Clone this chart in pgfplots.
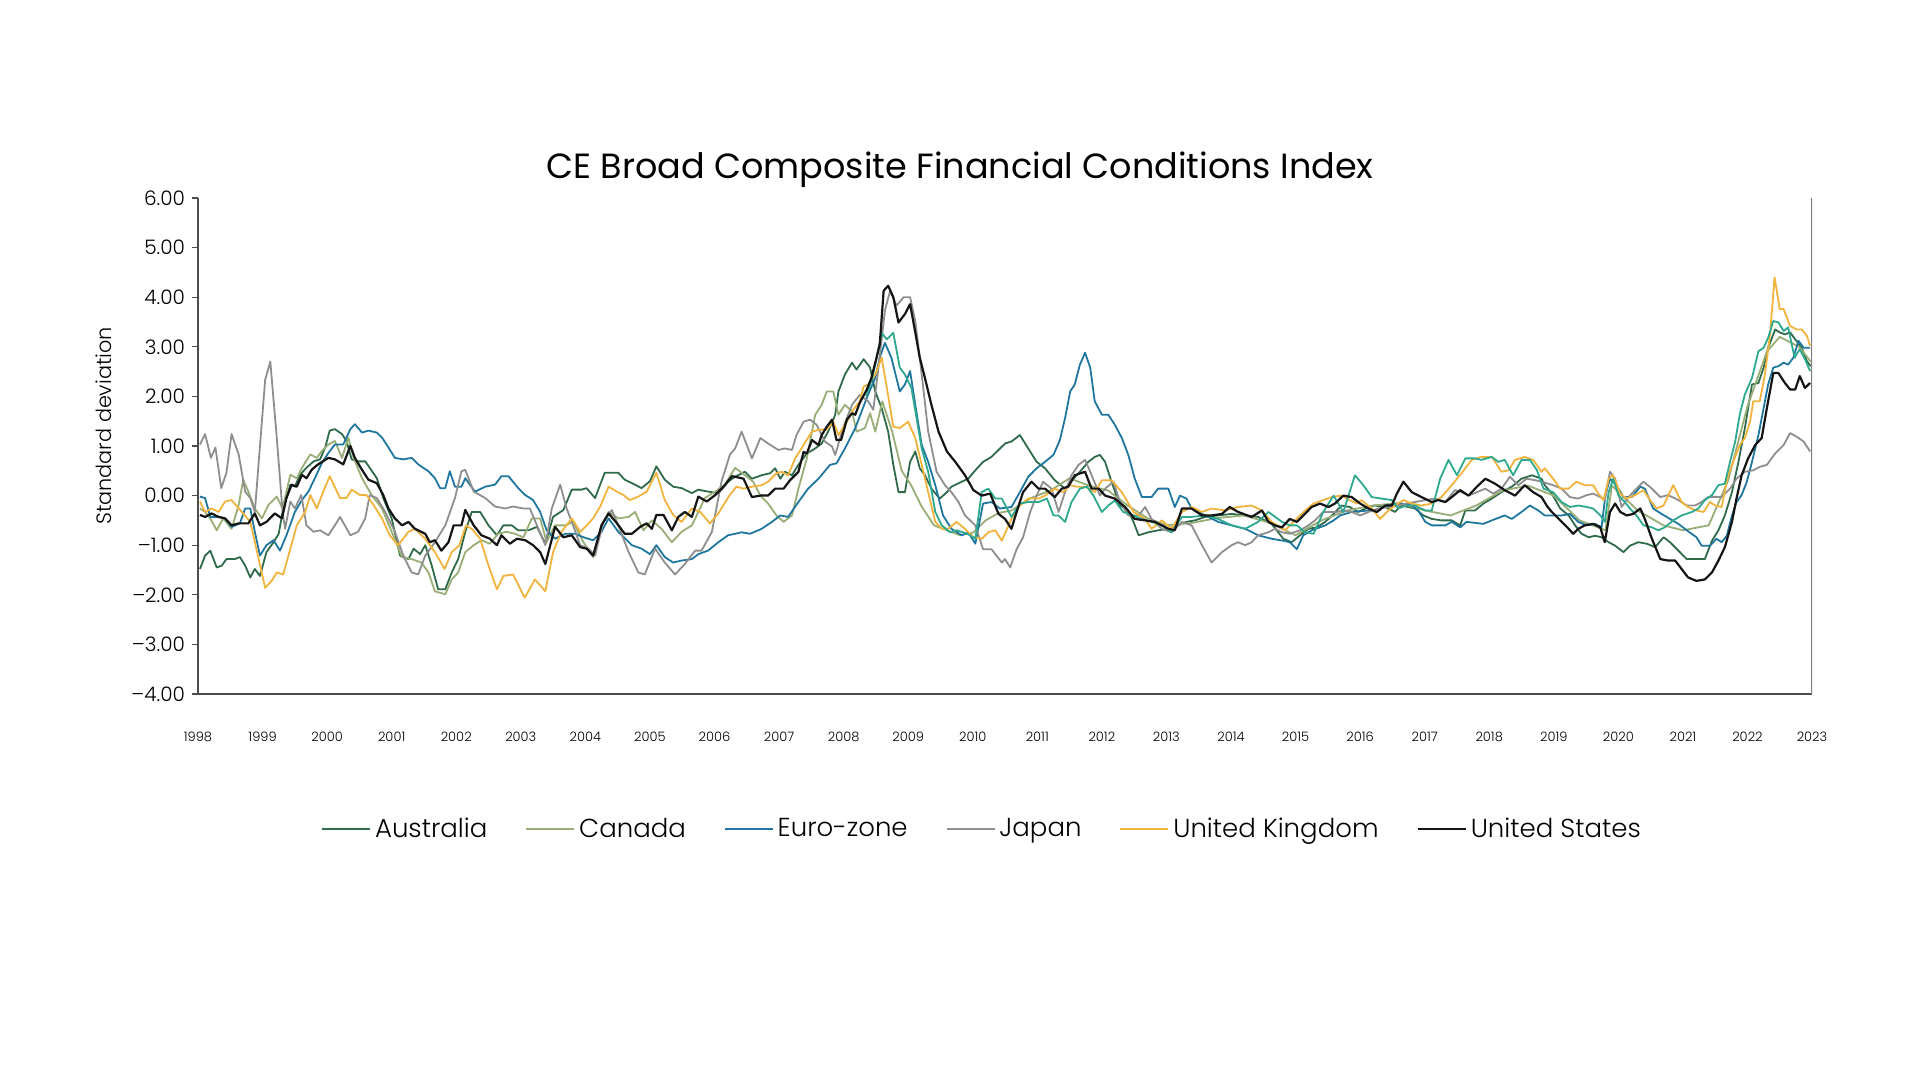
\documentclass[border=0pt]{standalone}
\usepackage{pgfplots}
\pgfplotsset{compat=1.18}
\usepackage{fontspec}
\IfFontExistsTF{Poppins Light}{\setmainfont{Poppins Light}}{\setmainfont{Poppins}}
\newfontfamily\titlefont{Poppins}
\definecolor{cAus}{HTML}{2F6B4A}
\definecolor{cCan}{HTML}{98AE76}
\definecolor{cEur}{HTML}{1F77A0}
\definecolor{cJap}{HTML}{8E8E8E}
\definecolor{cUK}{HTML}{F2B33D}
\definecolor{cUS}{HTML}{151515}
\definecolor{cTeal}{HTML}{2EA88E}
\begin{document}
\begin{tikzpicture}
\path[use as bounding box] (0pt,0pt) rectangle (960pt,540pt);
\begin{axis}[
  at={(99pt,193pt)}, anchor=south west,
  width=807pt, height=248pt, scale only axis,
  xmin=1998, xmax=2023, ymin=-4, ymax=6,
  axis x line*=bottom, axis y line*=left,
  axis line style={black!70, line width=0.6pt},
  xtick={1998,1999,2000,2001,2002,2003,2004,2005,2006,2007,2008,2009,2010,2011,2012,2013,2014,2015,2016,2017,2018,2019,2020,2021,2022,2023},
  xticklabels={1998,1999,2000,2001,2002,2003,2004,2005,2006,2007,2008,2009,2010,2011,2012,2013,2014,2015,2016,2017,2018,2019,2020,2021,2022,2023},
  x tick label style={font=\fontsize{6.5}{8}\selectfont, yshift=-12.5pt},
  xtick style={draw=none},
  ytick={-4,-3,-2,-1,0,1,2,3,4,5,6},
  yticklabels={\textendash4.00,\textendash3.00,\textendash2.00,\textendash1.00,0.00,1.00,2.00,3.00,4.00,5.00,6.00},
  y tick label style={font=\fontsize{10}{12}\selectfont},
  ytick style={black!70, line width=0.6pt},
  tick align=outside, major tick length=3pt,
  legend style={at={(0.4864,-0.272)}, anchor=center, draw=none, fill=none,
    legend columns=6, font=\fontsize{13}{15}\selectfont,
    /tikz/every even column/.append style={column sep=17pt}},
  legend cell align=left,
  legend image code/.code={\draw[#1] (0pt,0pt) -- (24pt,0pt);},
  every axis plot/.append style={line width=0.9pt, line join=round},
]
\addplot[cAus] coordinates {(1998.03,-1.48)(1998.11,-1.21)(1998.19,-1.11)(1998.29,-1.45)(1998.37,-1.41)(1998.44,-1.28)(1998.57,-1.28)(1998.65,-1.24)(1998.73,-1.41)(1998.81,-1.65)(1998.88,-1.48)(1998.96,-1.62)(1999.06,-1.14)(1999.17,-0.94)(1999.25,-0.77)(1999.32,-0.26)(1999.43,0.22)(1999.50,0.18)(1999.58,0.42)(1999.68,0.56)(1999.79,0.69)(1999.89,0.73)(1999.97,0.97)(2000.04,1.31)(2000.12,1.34)(2000.23,1.24)(2000.30,1.10)(2000.38,0.73)(2000.48,0.69)(2000.59,0.69)(2000.66,0.56)(2000.77,0.35)(2000.87,-0.05)(2001.00,-0.46)(2001.13,-1.21)(2001.26,-1.28)(2001.34,-1.07)(2001.44,-1.18)(2001.52,-1.00)(2001.62,-1.41)(2001.72,-1.89)(2001.83,-1.89)(2001.93,-1.55)(2002.03,-1.28)(2002.14,-0.73)(2002.24,-0.33)(2002.37,-0.33)(2002.50,-0.60)(2002.63,-0.80)(2002.73,-0.60)(2002.86,-0.60)(2002.96,-0.70)(2003.12,-0.70)(2003.25,-0.63)(2003.38,-0.97)(2003.50,-0.43)(2003.66,-0.29)(2003.79,0.12)(2003.94,0.12)(2004.02,0.15)(2004.15,-0.05)(2004.30,0.46)(2004.51,0.46)(2004.61,0.32)(2004.77,0.22)(2004.87,0.15)(2005.00,0.29)(2005.10,0.59)(2005.23,0.32)(2005.36,0.18)(2005.49,0.15)(2005.65,0.05)(2005.75,0.12)(2005.90,0.08)(2006.06,0.05)(2006.22,0.29)(2006.32,0.38)(2006.47,0.48)(2006.58,0.34)(2006.73,0.41)(2006.86,0.45)(2006.94,0.55)(2007.02,0.34)(2007.09,0.48)(2007.20,0.41)(2007.30,0.62)(2007.43,0.85)(2007.56,0.95)(2007.66,1.05)(2007.76,1.29)(2007.87,1.63)(2007.92,2.10)(2008.02,2.44)(2008.13,2.68)(2008.20,2.54)(2008.31,2.75)(2008.41,2.58)(2008.49,2.10)(2008.59,1.76)(2008.69,1.29)(2008.77,0.62)(2008.85,0.07)(2008.95,0.07)(2009.03,0.68)(2009.11,0.89)(2009.18,0.55)(2009.26,0.41)(2009.36,0.14)(2009.49,-0.06)(2009.60,0.07)(2009.67,0.18)(2009.83,0.28)(2009.93,0.34)(2010.04,0.51)(2010.16,0.68)(2010.29,0.78)(2010.40,0.92)(2010.50,1.05)(2010.60,1.09)(2010.73,1.22)(2010.86,0.95)(2010.99,0.68)(2011.12,0.55)(2011.27,0.31)(2011.43,0.14)(2011.56,0.34)(2011.66,0.48)(2011.79,0.68)(2011.89,0.78)(2011.97,0.82)(2012.05,0.68)(2012.15,0.28)(2012.28,-0.20)(2012.41,-0.30)(2012.49,-0.53)(2012.57,-0.80)(2012.72,-0.74)(2012.87,-0.70)(2013.03,-0.67)(2013.18,-0.60)(2013.31,-0.53)(2013.44,-0.50)(2013.60,-0.43)(2013.80,-0.40)(2014.01,-0.37)(2014.22,-0.40)(2014.42,-0.43)(2014.63,-0.57)(2014.81,-0.87)(2014.94,-0.94)(2015.07,-0.80)(2015.20,-0.67)(2015.33,-0.64)(2015.46,-0.53)(2015.59,-0.37)(2015.71,-0.20)(2015.84,-0.23)(2015.97,-0.33)(2016.13,-0.23)(2016.23,-0.20)(2016.39,-0.23)(2016.54,-0.33)(2016.64,-0.20)(2016.85,-0.26)(2016.98,-0.40)(2017.11,-0.47)(2017.26,-0.50)(2017.42,-0.50)(2017.55,-0.60)(2017.63,-0.30)(2017.78,-0.30)(2017.91,-0.16)(2018.04,-0.06)(2018.19,0.07)(2018.35,0.18)(2018.50,0.34)(2018.66,0.41)(2018.81,0.34)(2018.86,0.21)(2018.97,0.04)(2019.10,-0.26)(2019.23,-0.40)(2019.33,-0.60)(2019.43,-0.77)(2019.54,-0.84)(2019.64,-0.81)(2019.74,-0.84)(2019.85,-0.94)(2019.95,-1.01)(2020.08,-1.14)(2020.18,-1.01)(2020.31,-0.94)(2020.44,-0.97)(2020.57,-1.04)(2020.70,-0.84)(2020.80,-0.94)(2020.93,-1.11)(2021.06,-1.28)(2021.21,-1.28)(2021.34,-1.28)(2021.45,-0.91)(2021.55,-0.70)(2021.65,-0.40)(2021.76,0.07)(2021.86,0.68)(2021.96,1.36)(2022.07,2.24)(2022.17,2.27)(2022.25,2.58)(2022.32,2.98)(2022.43,3.35)(2022.50,3.29)(2022.58,3.25)(2022.66,3.29)(2022.74,3.15)(2022.84,2.98)(2022.92,2.71)(2022.98,2.61)};
\addplot[cCan] coordinates {(1998.03,-0.26)(1998.11,-0.33)(1998.19,-0.46)(1998.29,-0.70)(1998.39,-0.46)(1998.52,-0.67)(1998.63,-0.19)(1998.70,0.32)(1998.78,0.08)(1998.88,-0.26)(1998.99,-0.46)(1999.09,-0.19)(1999.22,-0.02)(1999.31,-0.26)(1999.43,0.42)(1999.53,0.35)(1999.61,0.56)(1999.74,0.83)(1999.84,0.76)(1999.92,0.90)(2000.02,1.03)(2000.12,1.10)(2000.23,0.76)(2000.33,1.17)(2000.41,0.76)(2000.54,0.35)(2000.69,0.01)(2000.85,-0.26)(2001.00,-0.73)(2001.16,-1.24)(2001.31,-1.28)(2001.46,-1.35)(2001.57,-1.55)(2001.67,-1.93)(2001.83,-1.99)(2001.93,-1.69)(2002.03,-1.55)(2002.14,-1.14)(2002.27,-1.00)(2002.39,-0.90)(2002.52,-0.97)(2002.65,-0.77)(2002.78,-0.73)(2002.91,-0.77)(2003.04,-0.84)(2003.17,-0.46)(2003.30,-0.46)(2003.40,-0.94)(2003.53,-0.60)(2003.69,-0.60)(2003.81,-0.53)(2003.97,-0.94)(2004.12,-1.24)(2004.25,-0.60)(2004.36,-0.33)(2004.51,-0.46)(2004.67,-0.43)(2004.77,-0.33)(2004.90,-0.70)(2005.03,-0.50)(2005.18,-0.67)(2005.34,-0.94)(2005.49,-0.73)(2005.65,-0.60)(2005.75,-0.33)(2005.85,-0.05)(2006.01,0.08)(2006.16,0.22)(2006.32,0.56)(2006.47,0.41)(2006.60,0.28)(2006.71,0.00)(2006.83,-0.16)(2006.96,-0.40)(2007.07,-0.53)(2007.20,-0.40)(2007.30,0.14)(2007.43,0.75)(2007.56,1.63)(2007.66,1.83)(2007.74,2.10)(2007.84,2.10)(2007.92,1.63)(2008.02,1.83)(2008.13,1.70)(2008.20,1.29)(2008.33,1.36)(2008.41,1.66)(2008.49,1.29)(2008.60,1.90)(2008.75,1.30)(2008.90,0.50)(2009.05,0.20)(2009.20,-0.20)(2009.40,-0.60)(2009.60,-0.70)(2009.80,-0.80)(2010.00,-0.75)(2010.20,-0.50)(2010.40,-0.35)(2010.60,-0.30)(2010.90,-0.05)(2011.20,0.10)(2011.50,0.35)(2011.80,0.20)(2012.10,0.10)(2012.40,-0.20)(2012.70,-0.45)(2013.00,-0.60)(2013.40,-0.55)(2013.80,-0.45)(2014.20,-0.40)(2014.60,-0.55)(2015.00,-0.80)(2015.40,-0.50)(2015.80,-0.30)(2016.20,-0.20)(2016.60,-0.15)(2017.00,-0.30)(2017.40,-0.40)(2017.80,-0.20)(2018.20,0.10)(2018.60,0.20)(2019.00,0.00)(2019.40,-0.50)(2019.80,-0.70)(2019.90,0.20)(2020.30,-0.30)(2020.70,-0.60)(2021.00,-0.70)(2021.40,-0.60)(2021.70,0.30)(2022.00,1.80)(2022.30,2.90)(2022.50,3.20)(2022.80,3.00)(2022.98,2.70)};
\addplot[cEur] coordinates {(1998.03,-0.02)(1998.11,-0.05)(1998.19,-0.43)(1998.32,-0.43)(1998.42,-0.46)(1998.52,-0.63)(1998.65,-0.56)(1998.73,-0.26)(1998.81,-0.26)(1998.88,-0.73)(1998.96,-1.21)(1999.06,-1.00)(1999.17,-0.90)(1999.27,-1.11)(1999.37,-0.80)(1999.50,-0.33)(1999.61,-0.09)(1999.71,0.08)(1999.81,0.35)(1999.92,0.66)(2000.02,0.86)(2000.12,1.03)(2000.25,1.03)(2000.36,1.34)(2000.43,1.44)(2000.54,1.27)(2000.64,1.31)(2000.77,1.27)(2000.85,1.17)(2000.95,0.97)(2001.05,0.76)(2001.18,0.73)(2001.31,0.76)(2001.41,0.63)(2001.57,0.49)(2001.67,0.35)(2001.75,0.15)(2001.83,0.15)(2001.90,0.49)(2001.98,0.18)(2002.08,0.18)(2002.14,0.35)(2002.29,0.08)(2002.45,0.18)(2002.60,0.22)(2002.70,0.39)(2002.81,0.39)(2002.96,0.15)(2003.07,0.01)(2003.19,-0.09)(2003.30,-0.33)(2003.40,-0.70)(2003.53,-0.87)(2003.69,-0.77)(2003.84,-0.77)(2003.97,-0.84)(2004.12,-0.90)(2004.25,-0.73)(2004.36,-0.46)(2004.51,-0.73)(2004.72,-1.00)(2004.87,-1.07)(2005.00,-1.18)(2005.10,-1.00)(2005.23,-1.24)(2005.36,-1.35)(2005.49,-1.31)(2005.65,-1.28)(2005.75,-1.18)(2005.90,-1.11)(2006.06,-0.94)(2006.21,-0.80)(2006.32,-0.77)(2006.42,-0.74)(2006.55,-0.77)(2006.73,-0.67)(2006.89,-0.53)(2007.02,-0.40)(2007.14,-0.43)(2007.30,-0.13)(2007.45,0.14)(2007.61,0.34)(2007.79,0.62)(2007.89,0.65)(2008.02,0.95)(2008.18,1.36)(2008.28,1.70)(2008.38,2.04)(2008.49,2.37)(2008.56,2.78)(2008.64,3.08)(2008.74,2.78)(2008.87,2.10)(2008.95,2.24)(2009.03,2.51)(2009.11,1.83)(2009.21,1.02)(2009.31,0.68)(2009.42,0.21)(2009.54,-0.40)(2009.67,-0.67)(2009.83,-0.80)(2009.93,-0.74)(2010.04,-0.97)(2010.16,-0.16)(2010.29,-0.13)(2010.42,-0.26)(2010.60,-0.23)(2010.73,0.07)(2010.86,0.38)(2010.99,0.55)(2011.09,0.65)(2011.25,0.82)(2011.35,1.12)(2011.43,1.56)(2011.51,2.10)(2011.58,2.24)(2011.66,2.64)(2011.74,2.88)(2011.82,2.58)(2011.89,1.90)(2012.00,1.63)(2012.10,1.63)(2012.20,1.43)(2012.31,1.16)(2012.41,0.82)(2012.51,0.34)(2012.62,-0.03)(2012.77,-0.03)(2012.87,0.14)(2013.03,0.14)(2013.13,-0.23)(2013.21,0.00)(2013.31,-0.06)(2013.39,-0.26)(2013.60,-0.40)(2013.80,-0.53)(2014.01,-0.60)(2014.22,-0.67)(2014.42,-0.80)(2014.63,-0.87)(2014.81,-0.91)(2014.91,-0.94)(2015.02,-1.08)(2015.12,-0.80)(2015.25,-0.70)(2015.46,-0.60)(2015.59,-0.50)(2015.69,-0.40)(2015.87,-0.33)(2016.13,-0.30)(2016.26,-0.33)(2016.39,-0.20)(2016.64,-0.16)(2016.80,-0.20)(2016.90,-0.30)(2017.01,-0.53)(2017.11,-0.60)(2017.32,-0.60)(2017.42,-0.53)(2017.55,-0.64)(2017.65,-0.53)(2017.91,-0.57)(2018.04,-0.50)(2018.24,-0.40)(2018.35,-0.47)(2018.50,-0.33)(2018.63,-0.20)(2018.76,-0.30)(2018.86,-0.40)(2019.12,-0.40)(2019.25,-0.37)(2019.38,-0.53)(2019.51,-0.60)(2019.64,-0.57)(2019.74,-0.64)(2019.80,0.01)(2019.87,0.34)(2019.97,0.21)(2020.08,-0.03)(2020.21,-0.03)(2020.34,0.18)(2020.41,0.14)(2020.54,-0.26)(2020.67,-0.37)(2020.80,-0.47)(2020.93,-0.57)(2021.06,-0.70)(2021.21,-0.84)(2021.29,-1.01)(2021.42,-1.01)(2021.52,-0.87)(2021.60,-0.94)(2021.68,-0.81)(2021.76,-0.40)(2021.83,-0.13)(2021.91,0.01)(2021.99,0.28)(2022.07,0.68)(2022.17,1.22)(2022.25,1.76)(2022.32,2.24)(2022.40,2.58)(2022.48,2.61)(2022.56,2.68)(2022.63,2.64)(2022.71,2.78)(2022.79,3.12)(2022.87,2.98)(2022.97,2.98)};
\addplot[cJap] coordinates {(1998.03,1.03)(1998.11,1.24)(1998.20,0.76)(1998.27,0.97)(1998.36,0.15)(1998.44,0.46)(1998.52,1.24)(1998.63,0.83)(1998.73,0.08)(1998.81,-0.05)(1998.88,-0.33)(1999.04,2.33)(1999.12,2.70)(1999.22,1.17)(1999.31,-0.33)(1999.35,-0.67)(1999.43,-0.12)(1999.50,-0.26)(1999.60,0.01)(1999.68,-0.60)(1999.79,-0.73)(1999.89,-0.70)(2000.02,-0.80)(2000.12,-0.60)(2000.20,-0.43)(2000.36,-0.80)(2000.48,-0.73)(2000.59,-0.46)(2000.66,0.01)(2000.77,-0.05)(2000.90,-0.33)(2001.05,-0.73)(2001.18,-1.21)(2001.31,-1.55)(2001.41,-1.59)(2001.52,-1.21)(2001.67,-0.94)(2001.83,-0.60)(2001.98,-0.05)(2002.08,0.49)(2002.14,0.52)(2002.27,0.08)(2002.45,-0.05)(2002.60,-0.22)(2002.76,-0.26)(2002.88,-0.22)(2003.04,-0.26)(2003.14,-0.26)(2003.25,-0.60)(2003.38,-1.00)(2003.48,-0.26)(2003.61,0.22)(2003.71,-0.26)(2003.81,-0.60)(2003.92,-1.00)(2004.05,-1.07)(2004.15,-1.21)(2004.28,-0.53)(2004.41,-0.29)(2004.51,-0.60)(2004.67,-1.14)(2004.82,-1.55)(2004.92,-1.59)(2005.08,-1.07)(2005.23,-1.35)(2005.39,-1.59)(2005.54,-1.38)(2005.70,-1.11)(2005.80,-1.11)(2005.96,-0.73)(2006.11,0.29)(2006.24,0.83)(2006.32,0.95)(2006.42,1.29)(2006.58,0.75)(2006.71,1.16)(2006.83,1.05)(2006.99,0.92)(2007.09,0.95)(2007.20,0.92)(2007.27,1.22)(2007.38,1.49)(2007.48,1.53)(2007.58,1.43)(2007.71,1.09)(2007.82,0.99)(2007.87,0.82)(2007.99,1.36)(2008.13,1.83)(2008.25,2.03)(2008.38,1.90)(2008.46,1.73)(2008.54,2.58)(2008.64,3.73)(2008.72,4.13)(2008.82,3.83)(2008.93,4.00)(2009.03,4.00)(2009.11,3.52)(2009.21,2.44)(2009.31,1.29)(2009.44,0.48)(2009.57,0.21)(2009.67,0.07)(2009.78,-0.13)(2009.88,-0.40)(2010.04,-0.60)(2010.16,-1.08)(2010.29,-1.08)(2010.45,-1.35)(2010.50,-1.28)(2010.58,-1.45)(2010.68,-1.08)(2010.78,-0.84)(2010.89,-0.33)(2010.99,0.00)(2011.09,0.28)(2011.22,0.14)(2011.33,-0.33)(2011.43,0.07)(2011.53,0.41)(2011.64,0.62)(2011.74,0.72)(2011.82,0.48)(2011.97,0.00)(2012.05,0.14)(2012.18,0.28)(2012.28,-0.13)(2012.41,-0.40)(2012.57,-0.40)(2012.67,-0.23)(2012.77,-0.47)(2012.93,-0.67)(2013.08,-0.74)(2013.24,-0.53)(2013.39,-0.60)(2013.55,-1.00)(2013.70,-1.35)(2013.86,-1.14)(2014.01,-1.00)(2014.11,-0.94)(2014.22,-1.00)(2014.32,-0.94)(2014.42,-0.80)(2014.58,-0.74)(2014.68,-0.67)(2014.79,-0.74)(2014.91,-0.77)(2015.07,-0.70)(2015.20,-0.60)(2015.30,-0.50)(2015.43,-0.33)(2015.64,-0.33)(2015.74,-0.30)(2015.87,-0.33)(2016.00,-0.40)(2016.13,-0.33)(2016.28,-0.26)(2016.44,-0.23)(2016.59,-0.20)(2016.72,-0.16)(2016.85,-0.13)(2017.01,-0.09)(2017.16,-0.06)(2017.32,-0.13)(2017.47,0.11)(2017.57,0.07)(2017.68,0.00)(2017.81,0.07)(2017.94,0.14)(2018.06,0.04)(2018.19,0.14)(2018.32,0.38)(2018.45,0.21)(2018.58,0.34)(2018.71,0.31)(2018.81,0.28)(2018.99,0.21)(2019.12,0.14)(2019.25,-0.03)(2019.38,-0.06)(2019.51,0.01)(2019.61,0.04)(2019.72,-0.03)(2019.79,-0.09)(2019.87,0.48)(2019.95,0.34)(2020.05,-0.23)(2020.16,-0.03)(2020.28,0.14)(2020.39,0.28)(2020.52,0.14)(2020.65,-0.03)(2020.77,0.01)(2020.93,-0.09)(2021.06,-0.20)(2021.19,-0.20)(2021.29,-0.13)(2021.39,-0.03)(2021.60,-0.03)(2021.73,0.14)(2021.83,0.34)(2021.96,0.48)(2022.09,0.51)(2022.19,0.58)(2022.30,0.62)(2022.43,0.85)(2022.56,1.02)(2022.66,1.26)(2022.76,1.19)(2022.87,1.09)(2022.97,0.89)};
\addplot[cUK] coordinates {(1998.03,-0.12)(1998.11,-0.33)(1998.21,-0.26)(1998.32,-0.33)(1998.42,-0.12)(1998.52,-0.09)(1998.68,-0.33)(1998.81,-0.53)(1998.94,-1.28)(1999.04,-1.86)(1999.14,-1.72)(1999.22,-1.55)(1999.32,-1.59)(1999.43,-1.07)(1999.53,-0.60)(1999.66,-0.33)(1999.74,0.01)(1999.84,-0.26)(1999.94,0.08)(2000.04,0.39)(2000.20,-0.05)(2000.30,-0.05)(2000.38,0.12)(2000.51,0.01)(2000.61,0.01)(2000.72,-0.19)(2000.85,-0.46)(2000.97,-0.80)(2001.10,-1.00)(2001.26,-0.73)(2001.36,-0.67)(2001.52,-0.87)(2001.67,-1.14)(2001.82,-1.48)(2001.93,-1.14)(2002.05,-1.00)(2002.15,-0.60)(2002.24,-0.67)(2002.37,-0.87)(2002.50,-1.41)(2002.63,-1.89)(2002.73,-1.62)(2002.88,-1.59)(2003.06,-2.06)(2003.22,-1.69)(2003.38,-1.93)(2003.50,-1.14)(2003.63,-0.73)(2003.79,-0.46)(2003.92,-0.73)(2004.00,-0.63)(2004.12,-0.46)(2004.23,-0.22)(2004.36,0.18)(2004.49,0.08)(2004.59,0.01)(2004.69,-0.09)(2004.82,-0.02)(2004.95,0.08)(2005.10,0.46)(2005.23,-0.09)(2005.36,-0.39)(2005.49,-0.53)(2005.65,-0.26)(2005.78,-0.33)(2005.93,-0.56)(2006.06,-0.36)(2006.22,-0.02)(2006.34,0.18)(2006.45,0.14)(2006.58,0.18)(2006.73,0.21)(2006.83,0.28)(2006.96,0.45)(2007.04,0.48)(2007.14,0.41)(2007.25,0.75)(2007.38,1.02)(2007.51,1.29)(2007.63,1.33)(2007.74,1.33)(2007.84,1.49)(2007.92,1.22)(2008.05,1.49)(2008.15,1.73)(2008.25,1.90)(2008.31,2.20)(2008.38,2.24)(2008.49,2.44)(2008.59,2.78)(2008.67,2.17)(2008.77,1.39)(2008.87,1.36)(2009.00,1.49)(2009.11,1.16)(2009.21,0.62)(2009.31,0.07)(2009.42,-0.53)(2009.52,-0.67)(2009.62,-0.67)(2009.75,-0.53)(2009.88,-0.67)(2010.01,-0.84)(2010.14,-0.87)(2010.24,-0.74)(2010.35,-0.70)(2010.45,-0.91)(2010.60,-0.47)(2010.73,-0.20)(2010.86,-0.06)(2011.02,-0.06)(2011.12,0.00)(2011.27,0.14)(2011.40,0.07)(2011.51,0.21)(2011.61,0.18)(2011.74,0.18)(2011.89,0.07)(2012.00,0.31)(2012.15,0.31)(2012.31,0.07)(2012.49,-0.33)(2012.67,-0.47)(2012.77,-0.67)(2012.93,-0.50)(2013.08,-0.67)(2013.24,-0.33)(2013.39,-0.23)(2013.55,-0.33)(2013.70,-0.26)(2013.91,-0.30)(2014.11,-0.23)(2014.32,-0.20)(2014.48,-0.30)(2014.63,-0.53)(2014.84,-0.70)(2014.99,-0.50)(2015.15,-0.30)(2015.28,-0.16)(2015.43,-0.09)(2015.56,-0.03)(2015.71,0.00)(2015.84,-0.09)(2015.95,-0.16)(2016.02,-0.09)(2016.18,-0.26)(2016.31,-0.47)(2016.44,-0.30)(2016.54,-0.20)(2016.67,-0.09)(2016.80,-0.16)(2016.95,-0.20)(2017.11,-0.16)(2017.26,-0.03)(2017.42,0.21)(2017.57,0.45)(2017.73,0.72)(2017.88,0.78)(2018.04,0.78)(2018.19,0.48)(2018.30,0.51)(2018.40,0.72)(2018.55,0.78)(2018.68,0.72)(2018.81,0.48)(2018.86,0.55)(2018.99,0.34)(2019.10,0.14)(2019.23,0.14)(2019.35,0.28)(2019.48,0.21)(2019.61,0.21)(2019.69,0.04)(2019.77,-0.09)(2019.85,0.34)(2019.92,0.41)(2020.03,0.04)(2020.13,-0.06)(2020.26,0.01)(2020.39,0.11)(2020.49,-0.09)(2020.59,-0.26)(2020.70,-0.20)(2020.85,0.21)(2020.98,-0.13)(2021.08,-0.23)(2021.21,-0.30)(2021.32,-0.33)(2021.42,-0.13)(2021.50,-0.20)(2021.60,-0.23)(2021.70,0.41)(2021.78,0.68)(2021.88,1.02)(2021.96,1.16)(2022.04,1.49)(2022.09,1.90)(2022.19,1.90)(2022.27,2.44)(2022.35,3.25)(2022.42,4.40)(2022.50,3.76)(2022.56,3.76)(2022.66,3.42)(2022.76,3.35)(2022.84,3.35)(2022.92,3.22)(2022.97,3.02)};
\addplot[cTeal, forget plot] coordinates {(2008.35,2.00)(2008.45,2.40)(2008.59,3.28)(2008.67,3.15)(2008.77,3.28)(2008.87,2.58)(2008.95,2.44)(2009.05,2.17)(2009.13,1.56)(2009.21,0.95)(2009.31,0.48)(2009.42,-0.33)(2009.52,-0.60)(2009.65,-0.74)(2009.75,-0.70)(2009.85,-0.74)(2009.96,-0.80)(2010.04,-0.87)(2010.14,0.07)(2010.24,0.14)(2010.35,-0.06)(2010.45,-0.06)(2010.60,-0.43)(2010.73,-0.16)(2010.86,-0.13)(2011.02,-0.13)(2011.15,-0.06)(2011.25,-0.40)(2011.33,-0.40)(2011.43,-0.53)(2011.53,-0.13)(2011.66,0.14)(2011.77,0.18)(2011.87,0.00)(2012.00,-0.33)(2012.10,-0.20)(2012.20,-0.10)(2012.33,-0.33)(2012.49,-0.40)(2012.62,-0.47)(2012.77,-0.53)(2012.93,-0.60)(2013.08,-0.74)(2013.24,-0.43)(2013.39,-0.43)(2013.60,-0.40)(2013.80,-0.47)(2014.01,-0.60)(2014.22,-0.67)(2014.42,-0.53)(2014.58,-0.33)(2014.79,-0.53)(2014.91,-0.60)(2015.02,-0.60)(2015.15,-0.74)(2015.28,-0.77)(2015.43,-0.33)(2015.59,0.00)(2015.74,-0.33)(2015.92,0.41)(2016.05,0.21)(2016.18,-0.03)(2016.33,-0.06)(2016.49,-0.09)(2016.59,-0.26)(2016.72,-0.20)(2016.85,-0.20)(2017.01,-0.30)(2017.11,-0.30)(2017.24,0.34)(2017.37,0.72)(2017.50,0.41)(2017.63,0.75)(2017.78,0.75)(2017.88,0.72)(2018.04,0.78)(2018.14,0.68)(2018.24,0.72)(2018.37,0.41)(2018.50,0.72)(2018.63,0.72)(2018.74,0.51)(2018.84,0.14)(2018.99,0.07)(2019.12,-0.13)(2019.25,-0.23)(2019.38,-0.20)(2019.51,-0.23)(2019.61,-0.26)(2019.72,-0.40)(2019.79,-0.53)(2019.85,0.07)(2019.92,0.34)(2020.00,0.01)(2020.10,-0.13)(2020.18,-0.26)(2020.28,-0.40)(2020.39,-0.60)(2020.52,-0.64)(2020.62,-0.70)(2020.72,-0.64)(2020.85,-0.50)(2020.98,-0.40)(2021.14,-0.33)(2021.24,-0.26)(2021.34,-0.09)(2021.45,0.01)(2021.55,0.21)(2021.65,0.24)(2021.73,0.68)(2021.81,1.09)(2021.88,1.63)(2021.96,2.04)(2022.07,2.37)(2022.17,2.91)(2022.25,2.98)(2022.32,3.18)(2022.40,3.52)(2022.48,3.49)(2022.56,3.32)(2022.63,3.39)(2022.73,2.78)(2022.81,2.95)(2022.89,2.75)(2022.97,2.51)};
\addplot[cUS, line width=1.1pt] coordinates {(1998.03,-0.39)(1998.11,-0.43)(1998.21,-0.36)(1998.32,-0.43)(1998.42,-0.46)(1998.52,-0.60)(1998.63,-0.56)(1998.78,-0.56)(1998.88,-0.36)(1998.96,-0.60)(1999.06,-0.53)(1999.19,-0.36)(1999.30,-0.46)(1999.37,-0.05)(1999.45,0.22)(1999.53,0.18)(1999.61,0.42)(1999.68,0.35)(1999.76,0.52)(1999.86,0.63)(2000.02,0.76)(2000.12,0.73)(2000.25,0.63)(2000.36,1.00)(2000.43,0.76)(2000.54,0.52)(2000.64,0.32)(2000.77,0.25)(2000.87,0.01)(2000.95,-0.26)(2001.05,-0.46)(2001.16,-0.60)(2001.26,-0.53)(2001.36,-0.67)(2001.52,-0.77)(2001.59,-0.94)(2001.67,-0.90)(2001.77,-1.11)(2001.88,-0.94)(2001.96,-0.60)(2002.08,-0.60)(2002.14,-0.29)(2002.27,-0.60)(2002.39,-0.80)(2002.52,-0.87)(2002.63,-1.00)(2002.70,-0.80)(2002.83,-0.97)(2002.94,-0.87)(2003.07,-0.90)(2003.19,-1.00)(2003.30,-1.14)(2003.38,-1.38)(2003.53,-0.63)(2003.66,-0.84)(2003.79,-0.80)(2003.92,-1.04)(2004.02,-1.07)(2004.12,-1.21)(2004.25,-0.60)(2004.36,-0.36)(2004.49,-0.56)(2004.61,-0.77)(2004.72,-0.77)(2004.85,-0.63)(2004.95,-0.56)(2005.03,-0.67)(2005.10,-0.39)(2005.21,-0.39)(2005.34,-0.70)(2005.44,-0.43)(2005.54,-0.33)(2005.65,-0.43)(2005.75,-0.02)(2005.88,-0.12)(2006.01,0.01)(2006.14,0.18)(2006.27,0.39)(2006.32,0.38)(2006.45,0.34)(2006.58,-0.03)(2006.71,0.00)(2006.83,0.00)(2006.94,0.14)(2007.07,0.14)(2007.17,0.31)(2007.30,0.48)(2007.38,0.88)(2007.43,0.85)(2007.51,1.12)(2007.61,1.02)(2007.66,1.22)(2007.74,1.39)(2007.82,1.53)(2007.89,1.12)(2007.96,1.12)(2008.05,1.53)(2008.13,1.66)(2008.18,1.63)(2008.25,1.87)(2008.36,2.14)(2008.43,2.37)(2008.51,2.78)(2008.56,3.05)(2008.62,4.13)(2008.69,4.23)(2008.77,4.00)(2008.85,3.49)(2008.95,3.66)(2009.03,3.86)(2009.11,3.29)(2009.18,2.78)(2009.26,2.37)(2009.36,1.83)(2009.47,1.29)(2009.60,0.89)(2009.73,0.68)(2009.88,0.41)(2010.01,0.11)(2010.14,0.00)(2010.27,0.04)(2010.40,-0.37)(2010.50,-0.47)(2010.60,-0.67)(2010.68,-0.33)(2010.78,0.07)(2010.91,0.28)(2011.02,0.14)(2011.12,0.14)(2011.27,-0.03)(2011.38,0.14)(2011.48,0.18)(2011.58,0.41)(2011.74,0.48)(2011.84,0.14)(2011.95,0.14)(2012.05,0.00)(2012.20,-0.06)(2012.36,-0.23)(2012.51,-0.47)(2012.67,-0.50)(2012.82,-0.53)(2012.93,-0.60)(2013.03,-0.67)(2013.13,-0.70)(2013.24,-0.26)(2013.39,-0.26)(2013.55,-0.40)(2013.70,-0.40)(2013.86,-0.37)(2013.98,-0.23)(2014.11,-0.33)(2014.32,-0.43)(2014.48,-0.30)(2014.58,-0.53)(2014.68,-0.60)(2014.79,-0.64)(2014.91,-0.47)(2015.02,-0.53)(2015.12,-0.40)(2015.25,-0.23)(2015.38,-0.16)(2015.51,-0.23)(2015.61,-0.16)(2015.74,0.00)(2015.87,-0.03)(2016.00,-0.16)(2016.13,-0.26)(2016.26,-0.33)(2016.39,-0.20)(2016.49,-0.20)(2016.57,0.04)(2016.67,0.28)(2016.80,0.07)(2016.95,-0.03)(2017.11,-0.13)(2017.21,-0.09)(2017.32,-0.13)(2017.42,-0.03)(2017.55,0.11)(2017.68,0.00)(2017.81,0.18)(2017.94,0.34)(2018.09,0.24)(2018.24,0.11)(2018.40,0.00)(2018.55,0.21)(2018.68,0.07)(2018.81,-0.03)(2018.90,-0.22)(2018.97,-0.33)(2019.10,-0.50)(2019.23,-0.67)(2019.30,-0.77)(2019.38,-0.67)(2019.48,-0.60)(2019.61,-0.57)(2019.72,-0.64)(2019.79,-0.94)(2019.87,-0.33)(2019.95,-0.16)(2020.03,-0.33)(2020.13,-0.40)(2020.23,-0.37)(2020.34,-0.26)(2020.41,-0.47)(2020.52,-0.87)(2020.65,-1.28)(2020.77,-1.31)(2020.88,-1.31)(2020.98,-1.48)(2021.08,-1.65)(2021.21,-1.72)(2021.34,-1.69)(2021.45,-1.55)(2021.55,-1.31)(2021.65,-1.04)(2021.76,-0.53)(2021.83,-0.06)(2021.91,0.41)(2022.01,0.75)(2022.12,1.02)(2022.22,1.16)(2022.30,1.76)(2022.40,2.47)(2022.48,2.47)(2022.58,2.27)(2022.66,2.14)(2022.74,2.14)(2022.81,2.41)(2022.89,2.17)(2022.97,2.27)};
\legend{Australia,Canada,Euro-zone,Japan,United Kingdom,United States}
\draw[gray, line width=0.8pt] (rel axis cs:1,0) -- (rel axis cs:1,1);
\end{axis}
\node[font=\titlefont\fontsize{17.5}{20}\selectfont] at (480pt,455pt) {CE Broad Composite Financial Conditions Index};
\node[rotate=90, font=\fontsize{10.4}{12}\selectfont] at (52pt,327pt) {Standard deviation};
\end{tikzpicture}
\end{document}
